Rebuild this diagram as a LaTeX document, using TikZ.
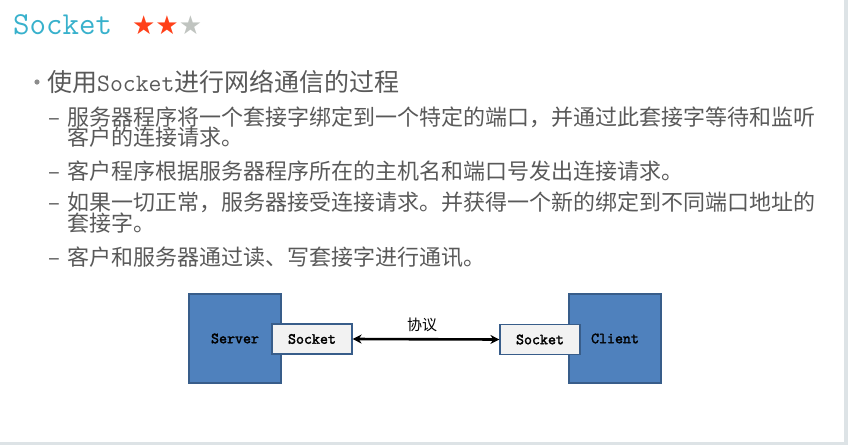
\documentclass[tikz,border=0pt]{standalone}
\usepackage{fontspec}
\setmainfont{Noto Sans CJK SC}
\newfontfamily\lmmono{Latin Modern Mono}
\newfontfamily\boxfont{Latin Modern Mono}[FakeBold=2.2]
\newfontfamily\symfont{DejaVu Sans}
\usetikzlibrary{arrows.meta}
\definecolor{titleteal}{RGB}{56,177,204}
\definecolor{starred}{RGB}{255,64,25}
\definecolor{stargray}{RGB}{192,196,192}
\definecolor{textgray}{RGB}{89,89,89}
\definecolor{dotgray}{RGB}{140,140,140}
\definecolor{boxblue}{RGB}{79,129,189}
\definecolor{boxline}{RGB}{56,93,138}
\definecolor{sockfill}{RGB}{242,242,242}
\definecolor{edgegray}{RGB}{221,227,230}
\tikzstyle{item}=[anchor=base west, inner sep=0pt, textgray, font=\fontsize{22}{22}\selectfont]
\tikzstyle{dashmark}=[anchor=base west, inner sep=0pt, textgray, font=\fontsize{22}{22}\selectfont]
\tikzstyle{hostbox}=[draw=boxline, fill=boxblue, line width=1.2pt, minimum width=92pt, minimum height=89pt, font=\boxfont\fontsize{15.5}{15.5}\selectfont]
\tikzstyle{sockbox}=[draw=boxline, fill=sockfill, line width=1.2pt, minimum width=80pt, minimum height=30pt, font=\boxfont\fontsize{15.5}{15.5}\selectfont]

\begin{document}
\begin{tikzpicture}[x=1pt, y=-1pt]
\useasboundingbox (0,0) rectangle (848,445);
% Edges
    \fill[edgegray] (844,0) rectangle (848,445);
    \fill[edgegray] (0,442) rectangle (848,445);
% Title
    \node[anchor=base west, inner sep=0pt, titleteal, font=\lmmono\fontsize{32}{32}\selectfont] (title) at (13,34) {Socket};
    \node[anchor=base west, inner sep=0pt, font=\symfont\fontsize{26}{26}\selectfont] (stars) at (132,34)
        {\textcolor{starred}{★★}\textcolor{stargray}{★}};
% Bullets
    \fill[dotgray] (37,82) circle(2.6);
    \node[anchor=base west, inner sep=0pt, textgray, font=\fontsize{25}{25}\selectfont] (head) at (47,91)
        {使用{\lmmono Socket}进行网络通信的过程};
    \node[dashmark] (d1) at (48,125) {–};
    \node[item] (l1) at (67,125) {服务器程序将一个套接字绑定到一个特定的端口，并通过此套接字等待和监听};
    \node[item] (l1b) at (67,145) {客户的连接请求。};
    \node[dashmark] (d2) at (48,179) {–};
    \node[item] (l2) at (67,179) {客户程序根据服务器程序所在的主机名和端口号发出连接请求。};
    \node[dashmark] (d3) at (48,210) {–};
    \node[item] (l3) at (67,210) {如果一切正常，服务器接受连接请求。并获得一个新的绑定到不同端口地址的};
    \node[item] (l3b) at (67,231) {套接字。};
    \node[dashmark] (d4) at (48,265) {–};
    \node[item] (l4) at (67,265) {客户和服务器通过读、写套接字进行通讯。};
% Diagram
    \node[hostbox] (server) at (235,338.5) {Server};
    \node[hostbox] (client) at (615,338.5) {Client};
    \node[sockbox] (ssock) at (312,339) {Socket};
    \node[sockbox] (csock) at (540,339.5) {Socket};
    \draw[line width=2.6pt, {Stealth[length=9pt,width=9pt]}-{Stealth[length=9pt,width=9pt]}] (ssock.east) -- (csock.west);
    \node[font=\fontsize{15}{15}\selectfont] (proto) at (422,325) {协议};
\end{tikzpicture}
\end{document}
